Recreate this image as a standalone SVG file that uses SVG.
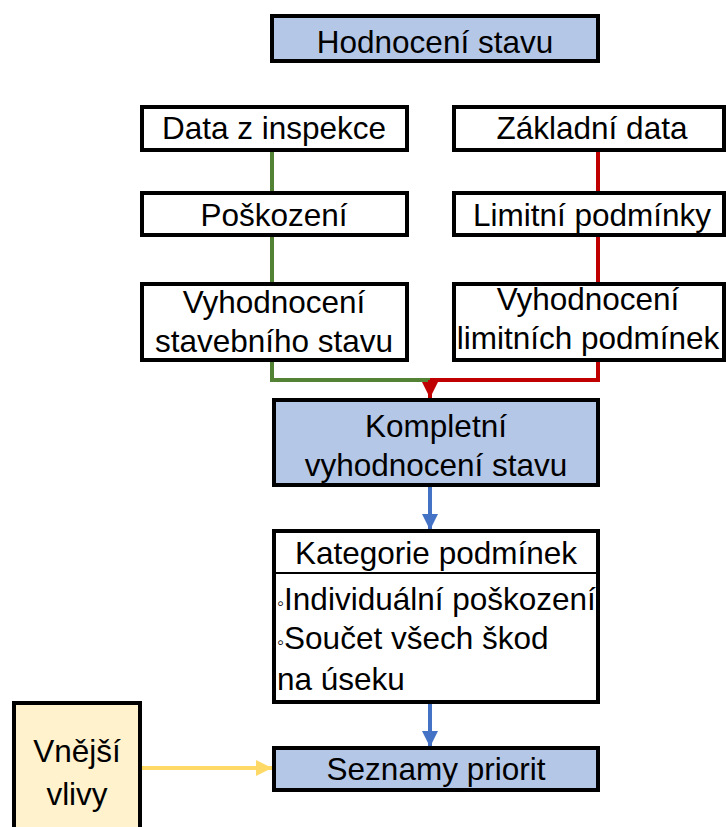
<svg xmlns="http://www.w3.org/2000/svg" width="726" height="827" viewBox="0 0 726 827">
<style>
.box{stroke:#000;stroke-width:4;}
.w{fill:#fff;}
.b{fill:#B4C7E7;}
.y{fill:#FFF2CC;}
text{font-family:"Liberation Sans",Arial,sans-serif;font-size:31.5px;fill:#000;}
.c{text-anchor:middle;}
.con{fill:none;stroke-width:4;}
</style>
<defs>
<marker id="arR" viewBox="0 0 10 10" refX="10" refY="5" markerWidth="4" markerHeight="4" orient="auto" markerUnits="strokeWidth"><path d="M0,0 L10,5 L0,10 z" fill="#C00000"/></marker>
<marker id="arB" viewBox="0 0 10 10" refX="10" refY="5" markerWidth="4" markerHeight="4" orient="auto" markerUnits="strokeWidth"><path d="M0,0 L10,5 L0,10 z" fill="#4472C4"/></marker>
<marker id="arY" viewBox="0 0 10 10" refX="10" refY="5" markerWidth="4" markerHeight="4" orient="auto" markerUnits="strokeWidth"><path d="M0,0 L10,5 L0,10 z" fill="#FFD966"/></marker>
</defs>
<g id="connectors">
<path class="con" stroke="#548235" d="M272,150 V192 M272,235 V282 M272,360 V380 H430"/>
<path class="con" stroke="#C00000" d="M598,150 V192 M598,235 V282 M598,360 V380 H430"/>
<path class="con" stroke="#C00000" d="M430,380 V398" marker-end="url(#arR)"/>
<path class="con" stroke="#4472C4" d="M430,486 V530" marker-end="url(#arB)"/>
<path class="con" stroke="#4472C4" d="M430,702 V747" marker-end="url(#arB)"/>
<path class="con" stroke="#FFD966" d="M142,768 H272" marker-end="url(#arY)"/>
</g>
<g id="hodnoceni"><rect class="box b" x="272" y="16" width="326" height="45"/><text class="c" x="435" y="53">Hodnocení stavu</text></g>
<g id="data-inspekce"><rect class="box w" x="142" y="107" width="265" height="43"/><text class="c" x="274" y="139">Data z inspekce</text></g>
<g id="zakladni-data"><rect class="box w" x="454" y="107" width="270" height="43"/><text class="c" x="592" y="139">Základní data</text></g>
<g id="poskozeni"><rect class="box w" x="142" y="193" width="265" height="42"/><text class="c" x="274" y="226">Poškození</text></g>
<g id="limitni"><rect class="box w" x="454" y="193" width="270" height="42"/><text class="c" x="592" y="226">Limitní podmínky</text></g>
<g id="vyhod-stav"><rect class="box w" x="142" y="284" width="265" height="76"/><text class="c" x="274" y="313">Vyhodnocení</text><text class="c" x="274" y="352">stavebního stavu</text></g>
<g id="vyhod-limit"><rect class="box w" x="454" y="284" width="270" height="76"/><text class="c" x="588" y="310">Vyhodnocení</text><text class="c" x="588" y="349">limitních podmínek</text></g>
<g id="kompletni"><rect class="box b" x="274" y="400" width="324" height="85"/><text class="c" x="436" y="437">Kompletní</text><text class="c" x="436" y="476">vyhodnocení stavu</text></g>
<g id="kategorie"><rect class="box w" x="274" y="531" width="324" height="171"/><line x1="274" y1="573" x2="598" y2="573" stroke="#000" stroke-width="2"/><text class="c" x="436" y="564">Kategorie podmínek</text><text x="277" y="610"><tspan font-size="20">◦</tspan>Individuální poškození</text><text x="277" y="649"><tspan font-size="20">◦</tspan>Součet všech škod</text><text x="277" y="690">na úseku</text></g>
<g id="seznamy"><rect class="box b" x="274" y="748" width="324" height="42"/><text class="c" x="436" y="780">Seznamy priorit</text></g>
<g id="vnejsi"><rect class="box y" x="14" y="703" width="126" height="130"/><text class="c" x="77" y="762">Vnější</text><text class="c" x="77" y="805">vlivy</text></g>
</svg>
